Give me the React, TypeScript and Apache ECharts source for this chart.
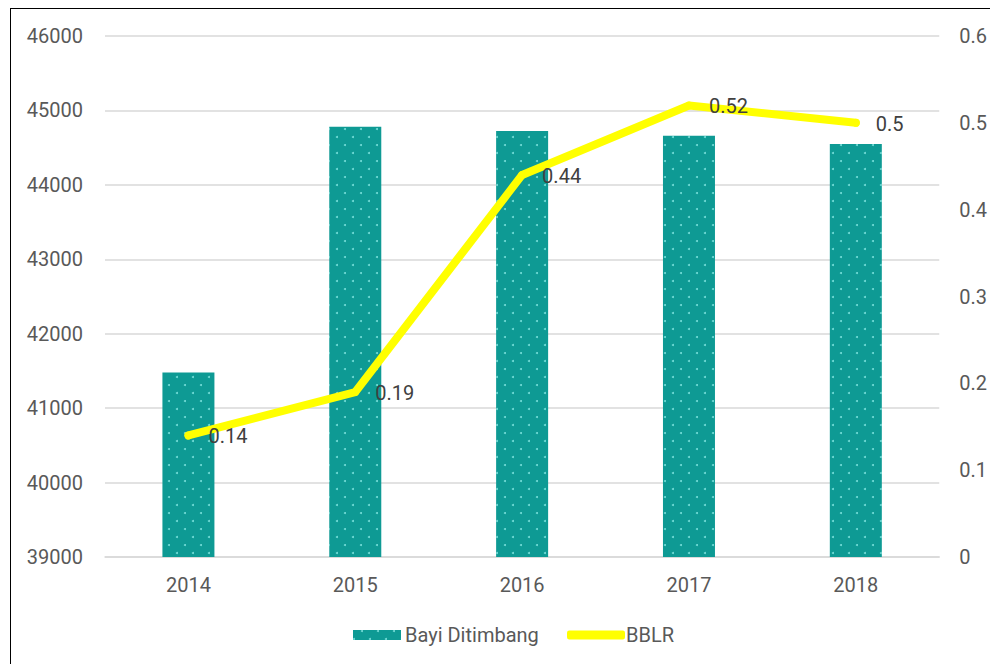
import React, { useEffect, useRef } from "react";
import * as echarts from "echarts";

const categories = ["2014", "2015", "2016", "2017", "2018"];
const bayiDitimbang = [41480, 44780, 44725, 44660, 44550];
const bblr = [0.14, 0.19, 0.44, 0.52, 0.5];
const leftTicks = { min: 39000, max: 46000, interval: 1000 };
const rightTicks = { min: 0, max: 0.6, interval: 0.1 };

const FONT = "Roboto, 'Open Sans', sans-serif";
const AXIS_COLOR = "#595959";
const FS = 20;

export default function App() {
  const ref = useRef<HTMLDivElement>(null);
  useEffect(() => {
    if (!ref.current) return;
    const chart = echarts.init(ref.current, undefined, { renderer: "svg" });
    chart.setOption({
      animation: false,
      backgroundColor: "#ffffff",
      textStyle: { fontFamily: FONT },
      grid: { left: 105, right: 50, top: 36, bottom: 107 },
      legend: [
        {
          data: [{ name: "Bayi Ditimbang", icon: "rect" }],
          left: 353,
          top: 625,
          padding: 0,
          itemWidth: 48,
          itemHeight: 10,
          textStyle: { fontFamily: FONT, fontSize: FS, color: AXIS_COLOR, padding: [0, 0, 0, -1] },
        },
        {
          data: [{ name: "BBLR", icon: "roundRect" }],
          left: 567,
          top: 625,
          padding: 0,
          itemWidth: 58,
          itemHeight: 9,
          textStyle: { fontFamily: FONT, fontSize: FS, color: AXIS_COLOR, padding: [0, 0, 0, -4] },
        },
      ],
      xAxis: {
        type: "category",
        data: categories,
        axisLine: { show: true, lineStyle: { color: "#d9d9d9", width: 1.5 } },
        axisTick: { show: false },
        axisLabel: { color: AXIS_COLOR, fontSize: FS, fontFamily: FONT, margin: 18 },
      },
      yAxis: [
        {
          type: "value",
          min: leftTicks.min,
          max: leftTicks.max,
          interval: leftTicks.interval,
          axisLine: { show: false },
          axisTick: { show: false },
          splitLine: { lineStyle: { color: "#d9d9d9", width: 1.5 } },
          axisLabel: {
            color: AXIS_COLOR,
            fontSize: FS,
            fontFamily: FONT,
            margin: 22,
            formatter: (v: number) => String(v),
          },
        },
        {
          type: "value",
          min: rightTicks.min,
          max: rightTicks.max,
          interval: rightTicks.interval,
          axisLine: { show: false },
          axisTick: { show: false },
          splitLine: { show: false },
          axisLabel: {
            color: AXIS_COLOR,
            fontSize: FS,
            fontFamily: FONT,
            margin: 20,
            formatter: (v: number) => String(Math.round(v * 10) / 10),
          },
        },
      ],
      series: [
        {
          name: "Bayi Ditimbang",
          type: "bar",
          data: bayiDitimbang,
          barWidth: 52,
          yAxisIndex: 0,
          itemStyle: {
            color: "#0e9a94",
            decal: {
              symbol: "circle",
              symbolSize: 1,
              color: "rgba(160,250,245,0.7)",
              dashArrayX: [
                [2, 14],
                [0, 8, 2, 6],
              ],
              dashArrayY: [2, 6],
              rotation: 0,
            },
          },
        },
        {
          name: "BBLR",
          type: "line",
          data: bblr,
          yAxisIndex: 1,
          symbol: "circle",
          symbolSize: 8,
          lineStyle: { color: "#ffff00", width: 8, cap: "round", join: "round" },
          itemStyle: { color: "#ffff00" },
          label: {
            show: true,
            position: "right",
            distance: 16,
            color: "#404040",
            fontSize: FS,
            fontFamily: FONT,
            offset: [0, 1],
          },
        },
      ],
    });
    return () => chart.dispose();
  }, []);

  return (
    <div
      style={{
        position: "fixed",
        left: 0,
        top: 0,
        width: 990,
        height: 664,
        overflow: "hidden",
        background: "#fff",
      }}
    >
      <div ref={ref} style={{ position: "absolute", left: 0, top: 0, width: 990, height: 664 }} />
      <div
        style={{
          position: "absolute",
          left: 10,
          top: 8,
          width: 1000,
          height: 700,
          border: "1.5px solid #000",
          pointerEvents: "none",
        }}
      />
    </div>
  );
}
